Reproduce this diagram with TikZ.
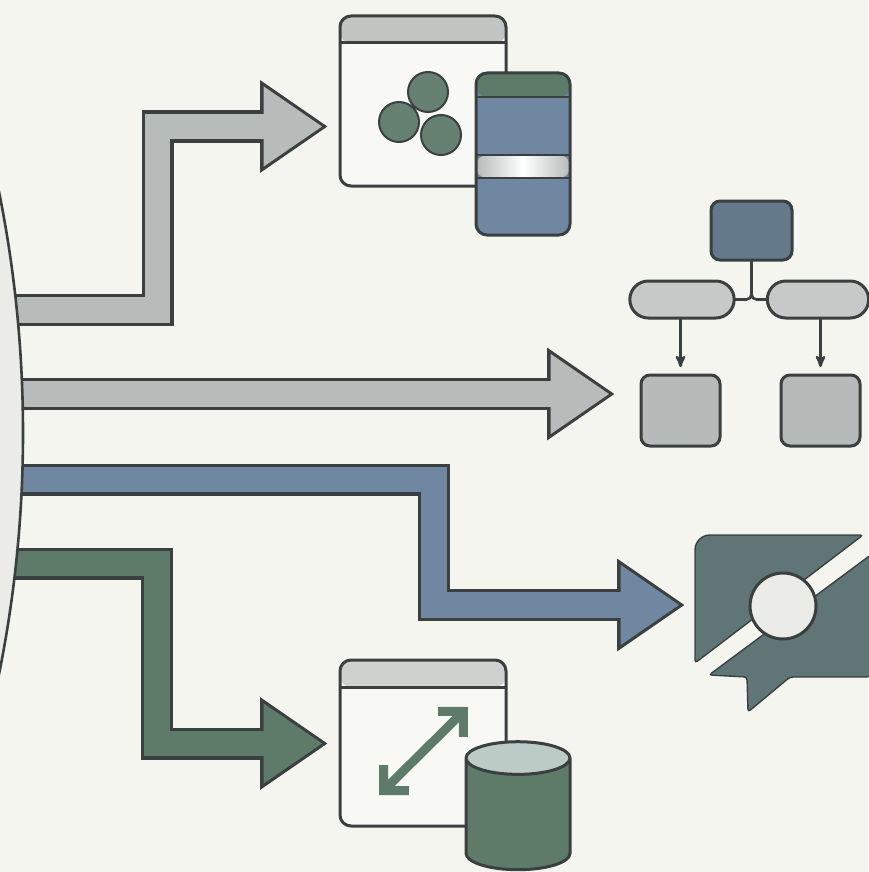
\documentclass[tikz,border=0pt]{standalone}
\usepackage{tikz}
\usetikzlibrary{arrows,arrows.meta,shapes.geometric,shapes.misc,positioning}
\definecolor{paper}{HTML}{F5F5F0}
\definecolor{pane}{HTML}{F8F9F5}
\definecolor{edge}{HTML}{3A403F}
\definecolor{hubfill}{HTML}{EBEBE8}
\definecolor{greyflow}{HTML}{B7BCBB}
\definecolor{blueflow}{HTML}{6F87A1}
\definecolor{greenflow}{HTML}{5E7A69}
\definecolor{slate}{HTML}{64798A}
\definecolor{teal}{HTML}{5F7576}
\definecolor{pillfill}{HTML}{C6C9C7}
\definecolor{leaffill}{HTML}{B6BBB9}
\definecolor{lidfill}{HTML}{BCCBC6}
\tikzset{
    %Define standard arrow tip
    >=stealth',
    %Define style for the fat arrows
    flowout/.style={
           draw=edge,
           line width=32pt,
           -{Triangle[length=68pt,width=88pt]}},
    flowin/.style={
           line width=25.5pt,
           shorten >=5.4pt,
           -{Triangle[length=59pt,width=76pt]}},
    %Define style for boxes
    windowbox/.style={
           rectangle,
           rounded corners=11pt,
           fill=pane,
           outer sep=0pt,
           minimum width=166pt,
           minimum height=170pt,
           path picture={
               \fill[#1] (path picture bounding box.north west) rectangle ([yshift=-27pt]path picture bounding box.north east);
               \draw[edge, line width=3pt] ([yshift=-27pt]path picture bounding box.north west) -- ([yshift=-27pt]path picture bounding box.north east);},
           postaction={draw=edge, line width=3pt}},
    storebox/.style={
           rectangle,
           rounded corners=11pt,
           fill=blueflow,
           outer sep=0pt,
           minimum width=94pt,
           minimum height=162pt,
           path picture={
               \fill[greenflow] (path picture bounding box.north west) rectangle ([yshift=-24pt]path picture bounding box.north east);
               \shade[left color=leaffill, right color=leaffill, middle color=white] ([yshift=-82pt]path picture bounding box.north west) rectangle ([yshift=-105pt]path picture bounding box.north east);
               \foreach \bandy in {24,82,105}
                   \draw[edge, line width=2.6pt] ([yshift=-\bandy pt]path picture bounding box.north west) -- ([yshift=-\bandy pt]path picture bounding box.north east);},
           postaction={draw=edge, line width=3pt}},
    blob/.style={
           circle,
           draw=edge, line width=2pt,
           fill=greenflow!95!white,
           outer sep=0pt,
           minimum size=40pt},
    orgbox/.style={
           rectangle,
           rounded corners=9pt,
           draw=edge, line width=3pt,
           outer sep=0pt},
    pill/.style={
           rounded rectangle,
           draw=edge, line width=3pt,
           fill=pillfill,
           outer sep=0pt,
           minimum height=37pt},
    chatpart/.style={
           draw=edge, line width=1.4pt,
           fill=teal,
           rounded corners=3pt},
    % Define arrow style
    pil/.style={
           ->,
           draw=edge,
           line width=2.6pt,
           shorten >=8pt}
}
% fat arrow: outline first, then its colour on top
\newcommand{\flowarrow}[2]{
    \draw[flowout] #2;
    \draw[flowin, draw=#1] #2;
}
\begin{document}
\begin{tikzpicture}[x=1pt,y=-1pt]
\path[use as bounding box, fill=paper] (0,0) rectangle (868,872);
% start and bend points of the arrows
\coordinate (s1) at (0,310);
\coordinate (b1) at (157.5,310);
\coordinate (c1) at (157.5,126.5);
\coordinate (t1) at (328,126.5);
\coordinate (s2) at (0,394);
\coordinate (t2) at (615,394);
\coordinate (s3) at (0,479.5);
\coordinate (b3) at (434,479.5);
\coordinate (c3) at (434,605);
\coordinate (t3) at (685,605);
\coordinate (s4) at (0,563.5);
\coordinate (b4) at (157,563.5);
\coordinate (c4) at (157,743.5);
\coordinate (t4) at (328,743.5);
\flowarrow{greyflow}{(s1) -- (b1) -- (c1) -- (t1)}
\flowarrow{greyflow}{(s2) -- (t2)}
\flowarrow{blueflow}{(s3) -- (b3) -- (c3) -- (t3)}
\flowarrow{greenflow}{(s4) -- (b4) -- (c4) -- (t4)}
\node[circle, draw=edge, line width=2.6pt, fill=hubfill, outer sep=0pt, minimum size=2424pt] (hub) at (-1189,433) {};
% top icon
\node[windowbox={pillfill!88!greenflow!90!white}] (win1) at (423,101) {};
\node[blob] (blob1) at (428,92) {};
\node[blob] (blob2) at (399,122) {};
\node[blob] (blob3) at (441,135) {};
\node[storebox] (store) at (523,154) {};
% org chart
\node[orgbox, fill=slate, minimum width=81pt, minimum height=59pt] (boss) at (751.5,230.5) {};
\node[pill, minimum width=111pt] (pilll) at (682,299.5) {};
\node[pill, minimum width=108pt] (pillr) at (818,299.5) {};
\node[orgbox, fill=leaffill, minimum width=79pt, minimum height=71pt] (leafl) at (680.5,410.5) {};
\node[orgbox, fill=leaffill, minimum width=79pt, minimum height=71pt] (leafr) at (820.5,410.5) {};
\draw[edge, line width=2.6pt, rounded corners=5pt] (boss.south) |- (pilll.east);
\draw[edge, line width=2.6pt, rounded corners=5pt] (boss.south) |- (pillr.west);
\draw[pil] (leafl.north |- pilll.south) -- (leafl.north);
\draw[pil] (leafr.north |- pillr.south) -- (leafr.north);
% chat icon
\draw[chatpart] (780,535) -- (863,535) -- (695,663) [rounded corners=15pt] -- (695,535) -- cycle;
\draw[chatpart] (876,551) -- (709,675) -- (747,677) -- (748,712) -- (790,677) [rounded corners=10pt] -- (876,677) -- cycle;
\node[circle, draw=edge, line width=3pt, fill=hubfill, outer sep=0pt, minimum size=66pt] (ring) at (783,606) {};
% bottom icon
\node[windowbox={pillfill!85!white}, minimum height=166pt] (win2) at (423,743) {};
\coordinate (da) at (379,795);
\coordinate (db) at (468,707);
\draw[greenflow, line width=9pt, {Straight Barb[length=18pt,width=36pt]}-{Straight Barb[length=18pt,width=36pt]}] (da) -- (db);
\node[cylinder, shape border rotate=90, aspect=4.9, draw=edge, line width=3pt, outer sep=0pt, cylinder uses custom fill, cylinder body fill=greenflow, cylinder end fill=lidfill, minimum width=104pt, minimum height=128pt] (tank) at (518,817.5) {};
\end{tikzpicture}
\end{document}
